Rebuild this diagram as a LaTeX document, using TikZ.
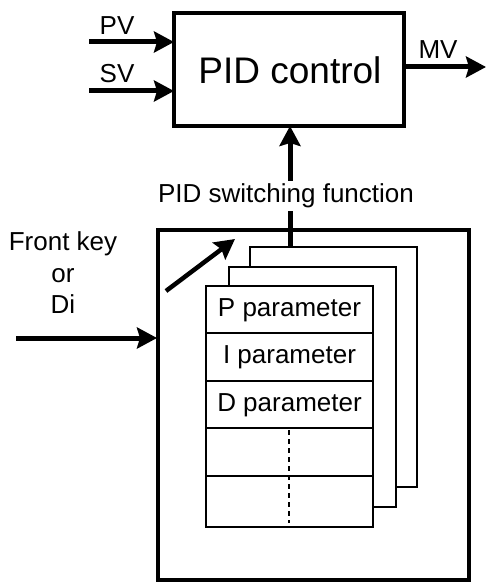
\documentclass[tikz,border=0pt]{standalone}
\usepackage{fontspec}
\setmainfont{Liberation Sans}
\usetikzlibrary{arrows.meta}
\begin{document}
\begin{tikzpicture}[x=1pt,y=-1pt,
  txt/.style={inner sep=0pt,font=\fontsize{26}{31.5}\selectfont},
  bigtxt/.style={inner sep=0pt,font=\fontsize{37}{44}\selectfont},
  sheet/.style={draw,line width=2.3pt,fill=white},
  thickline/.style={line width=4.5pt},
  arr/.style={line width=5pt,-{Stealth[length=20pt,width=21pt,inset=3pt]}},
  dashline/.style={line width=1.2pt,dash pattern=on 5pt off 4pt}]
\useasboundingbox (0,0) rectangle (486,583);
% PID control box
\draw[thickline] (174,13) rectangle (404,126);
\node[bigtxt] (pid) at (290,70) {PID control};
\coordinate (pidL1) at (174,42);
\coordinate (pidL2) at (174,91);
\coordinate (pidR) at (404,67);
\coordinate (pidB) at (290,126);
\coordinate (pvS) at (89,42);
\coordinate (svS) at (89,91);
\coordinate (mvE) at (486,67);
\draw[arr] (pvS) -- (pidL1);
\draw[arr] (svS) -- (pidL2);
\draw[arr] (pidR) -- (mvE);
\node[txt] (pv) at (117,26) {PV};
\node[txt] (sv) at (117,74) {SV};
\node[txt] (mv) at (438,50) {MV};
% big box
\draw[thickline] (158,230) rectangle (469,580);
% sheets
\draw[sheet] (250,247) rectangle (417,487);
\draw[sheet] (229,267) rectangle (396,507);
\draw[sheet] (206,286) rectangle (373,527);
\foreach \y in {333,381,428,476} \draw[line width=2.3pt] (206,\y) -- (373,\y);
\node[txt] (pp) at (289.5,310) {P parameter};
\node[txt] (ip) at (289.5,357) {I parameter};
\node[txt] (dp) at (289.5,405) {D parameter};
\coordinate (d1) at (289,430);
\coordinate (d2) at (289,523);
\draw[dashline] (d1) -- (d2);
% switching arrow
\coordinate (shTop) at (290,247);
\draw[arr] (shTop) -- (pidB);
\node[txt,fill=white,inner ysep=3pt,inner xsep=2pt] (sw) at (286,196) {PID switching function};
% diagonal arrow
\coordinate (dgS) at (166,291);
\coordinate (dgE) at (235,239);
\draw[line width=4.5pt,-{Stealth[length=20pt,width=21pt,inset=3pt]}] (dgS) -- (dgE);
% front key
\node[txt,align=center] (fk) at (63,273) {Front key\\or\\Di};
\coordinate (fkS) at (16,338);
\coordinate (fkE) at (157,338);
\draw[arr] (fkS) -- (fkE);
\end{tikzpicture}
\end{document}
